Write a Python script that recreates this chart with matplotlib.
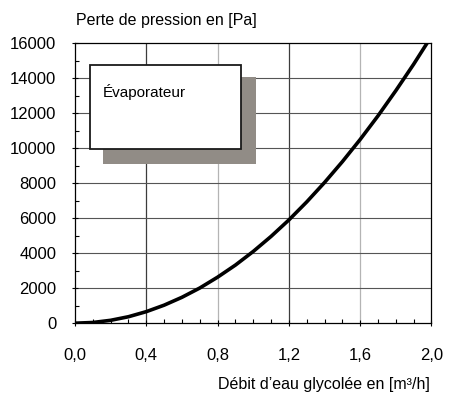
import matplotlib.pyplot as plt
from matplotlib.patches import Rectangle
from matplotlib.ticker import MultipleLocator, FuncFormatter

plt.rcParams["font.family"] = ["Liberation Sans", "DejaVu Sans"]

# debit (m3/h) and pressure loss (Pa)
debit = [0, 0.1, 0.2, 0.3, 0.4, 0.5, 0.6, 0.7, 0.8, 0.9, 1.0,
         1.1, 1.2, 1.3, 1.4, 1.5, 1.6, 1.7, 1.8, 1.9, 2.0]
perte = [0, 40, 165, 370, 660, 1030, 1480, 2010, 2630, 3320, 4100,
         4960, 5900, 6930, 8040, 9230, 10500, 11850, 13290, 14800, 16400]
x_ticks = [0.0, 0.4, 0.8, 1.2, 1.6, 2.0]
y_ticks = [0, 2000, 4000, 6000, 8000, 10000, 12000, 14000, 16000]

fig = plt.figure(figsize=(4.49, 4.0), dpi=100)
ax = fig.add_axes([0.167, 0.192, 0.794, 0.700])

# grid: alternating dark / light vertical lines like the original
for i, xv in enumerate(x_ticks[1:-1]):
    col = "#3c3c3c" if i % 2 == 0 else "#b4b4b4"
    ax.axvline(xv, color=col, lw=0.9, zorder=1)
for yv in y_ticks[1:-1]:
    ax.axhline(yv, color="#555555", lw=0.8, zorder=1)

ax.plot(debit, perte, color="black", lw=2.6, zorder=4, solid_capstyle="butt")

# text box with shadow
ax.add_patch(Rectangle((0.157, 9120), 0.857, 4930, facecolor="#918c86",
                       edgecolor="none", zorder=2))
ax.add_patch(Rectangle((0.084, 9980), 0.846, 4770, facecolor="white",
                       edgecolor="#1a1a1a", lw=1.3, zorder=3))
ax.text(0.157, 13200, "Évaporateur", fontsize=11, va="center", zorder=5)

ax.set_xlim(0, 2.0)
ax.set_ylim(0, 16000)
ax.set_xticks(x_ticks)
ax.set_yticks(y_ticks)
ax.xaxis.set_minor_locator(MultipleLocator(0.1))
ax.yaxis.set_minor_locator(MultipleLocator(1000))
ax.xaxis.set_major_formatter(FuncFormatter(lambda v, p: f"{v:.1f}".replace(".", ",")))
ax.tick_params(axis="both", which="major", direction="inout", length=5,
               labelsize=12, width=0.8)
ax.tick_params(axis="both", which="minor", direction="in", length=3, width=0.8)
ax.tick_params(axis="x", which="major", pad=15)
ax.tick_params(axis="y", which="major", pad=11)
for s in ax.spines.values():
    s.set_color("black")
    s.set_linewidth(0.9)

fig.text(0.169, 0.9475, "Perte de pression en [Pa]", fontsize=11.5, va="center")
fig.text(0.958, 0.038, "Débit d’eau glycolée en [m³/h]", fontsize=11.5,
         ha="right", va="center")

fig.savefig("out.png", dpi=100)
